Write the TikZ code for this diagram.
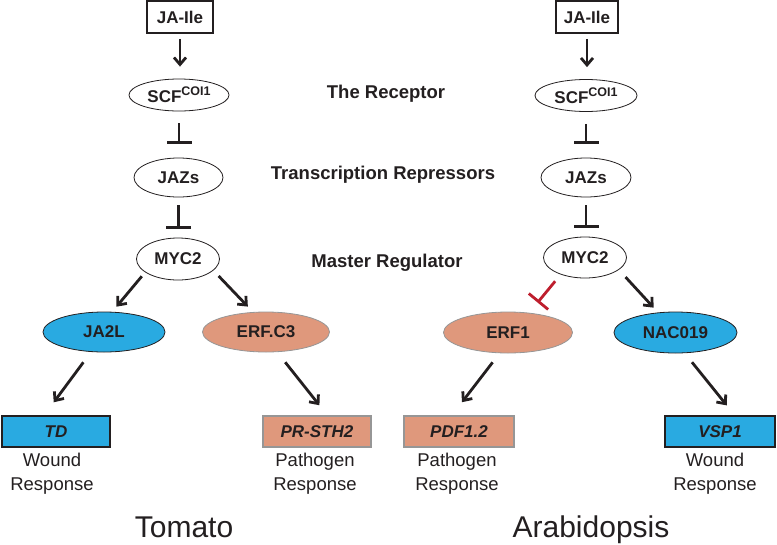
\documentclass[tikz,border=0pt]{standalone}
\usepackage{fontspec}
\setmainfont{Liberation Sans}
\usetikzlibrary{shapes.geometric,arrows.meta}
\definecolor{ink}{RGB}{35,31,32}
\definecolor{jblue}{RGB}{41,170,225}
\definecolor{salmon}{RGB}{223,152,124}
\definecolor{gbord}{RGB}{150,150,150}
\definecolor{tred}{RGB}{190,30,45}
\newcommand{\scfcoi}{SCF\raisebox{0.42em}{\fontsize{12.5}{12.5}\selectfont COI1}}
\begin{document}
\begin{tikzpicture}[x=1pt,y=-1pt,
  lbl/.style={font=\fontsize{17}{17}\selectfont\bfseries, text=ink},
  oval/.style={ellipse, draw=ink, line width=0.8pt, fill=white, inner sep=0pt, lbl},
  ovalblue/.style={oval, fill=jblue, draw=ink},
  ovalsalmon/.style={oval, fill=salmon, draw=gbord},
  jabox/.style={rectangle, draw=ink, line width=1.8pt, fill=white, inner sep=0pt,
     minimum height=32pt, lbl},
  genebox/.style={rectangle, inner sep=0pt, minimum width=108pt, minimum height=31pt,
     font=\fontsize{17}{17}\selectfont\bfseries\itshape, text=ink},
  geneblue/.style={genebox, fill=jblue, draw=ink, line width=1.6pt},
  genesalmon/.style={genebox, fill=salmon, draw=gbord, line width=1.8pt},
  resp/.style={align=center, font=\fontsize{18.5}{24}\selectfont, text=ink},
  mid/.style={anchor=base, font=\fontsize{18.5}{18.5}\selectfont\bfseries, text=ink},
  species/.style={anchor=base, font=\fontsize{30}{30}\selectfont, text=ink},
  arr/.style={draw=ink, line width=2.8pt, -{Straight Barb[length=7pt,width=12pt]}},
  inh/.style={draw=ink, line width=2.8pt, -{Bar[width=25pt]}},
  inhred/.style={draw=tred, line width=2.8pt, -{Bar[width=25pt]}}
]
\useasboundingbox (0,0) rectangle (777,544);

% ---------------- Tomato ----------------
\node[jabox, minimum width=66pt] (jaL) at (180,17) {JA-Ile};
\node[oval, minimum width=100pt, minimum height=32pt] (scfL) at (179,95) {\scfcoi};
\node[oval, minimum width=89pt, minimum height=39pt] (jazL) at (178.5,177.5) {JAZs};
\node[oval, minimum width=83pt, minimum height=42pt] (mycL) at (178,259) {MYC2};
\node[ovalblue, minimum width=122pt, minimum height=40pt] (ja2l) at (104,332) {JA2L};
\node[ovalsalmon, minimum width=127pt, minimum height=40pt] (erfc3) at (266,332) {ERF.C3};
\node[geneblue] (td) at (56,431.5) {TD};
\node[genesalmon] (prs) at (317,431.5) {PR-STH2};
\node[resp] (wrL) at (52,474) {Wound\\Response};
\node[resp] (prL) at (315,474) {Pathogen\\Response};
\node[species] (tom) at (184,537) {Tomato};

\draw[arr, shorten <=5pt, shorten >=12pt] (jaL.south) -- (jaL.south |- scfL.north);
\draw[inh, shorten <=12pt, shorten >=14pt] (scfL.south) -- (scfL.south |- jazL.north);
\draw[inh, shorten <=8pt, shorten >=9pt] (jazL.south) -- (jazL.south |- mycL.north);
\draw[arr, shorten <=5.2pt, shorten >=6.7pt] (mycL.202) -- (ja2l.68.8);
\draw[arr, shorten <=7.6pt, shorten >=7.5pt] (mycL.-18.3) -- (erfc3.123.1);
\draw[arr, shorten <=12.9pt, shorten >=16.1pt] (ja2l.237.7) -- (td.126.6);
\draw[arr, shorten <=13pt, shorten >=12.6pt] (erfc3.299.4) -- (prs.58);

% ---------------- Arabidopsis ----------------
\node[jabox, minimum width=62pt] (jaR) at (587,17) {JA-Ile};
\node[oval, minimum width=102pt, minimum height=32pt] (scfR) at (586,95.5) {\scfcoi};
\node[oval, minimum width=90pt, minimum height=39pt] (jazR) at (586,177.5) {JAZs};
\node[oval, minimum width=83pt, minimum height=41pt] (mycR) at (585,257.5) {MYC2};
\node[ovalsalmon, minimum width=129pt, minimum height=41pt] (erf1) at (508,332.5) {ERF1};
\node[ovalblue, minimum width=123pt, minimum height=41pt] (nac) at (675.5,332.5) {NAC019};
\node[genesalmon, minimum width=110pt] (pdf) at (459,431.5) {PDF1.2};
\node[geneblue, minimum width=110pt] (vsp) at (720,431.5) {VSP1};
\node[resp] (prR) at (457,474) {Pathogen\\Response};
\node[resp] (wrR) at (715,474) {Wound\\Response};
\node[species] (ara) at (591,537) {Arabidopsis};

\draw[arr, shorten <=5pt, shorten >=12pt] (jaR.south) -- (jaR.south |- scfR.north);
\draw[inh, shorten <=12pt, shorten >=14pt] (scfR.south) -- (scfR.south |- jazR.north);
\draw[inh, shorten <=8pt, shorten >=9pt] (jazR.south) -- (jazR.south |- mycR.north);
\draw[inhred, shorten <=8.7pt, shorten >=13.2pt] (mycR.215.9) -- (erf1.43.7);
\draw[arr, shorten <=9.9pt, shorten >=6.5pt] (mycR.-20.3) -- (nac.131);
\draw[arr, shorten <=11.5pt, shorten >=16.3pt] (erf1.248.2) -- (pdf.113.7);
\draw[arr, shorten <=11.6pt, shorten >=12.6pt] (nac.294.8) -- (vsp.48.5);

% ---------------- middle labels ----------------
\node[mid] (lrec) at (386,98) {The Receptor};
\node[mid] (lrep) at (383,179) {Transcription Repressors};
\node[mid] (lmas) at (387,267) {Master Regulator};
\end{tikzpicture}
\end{document}
